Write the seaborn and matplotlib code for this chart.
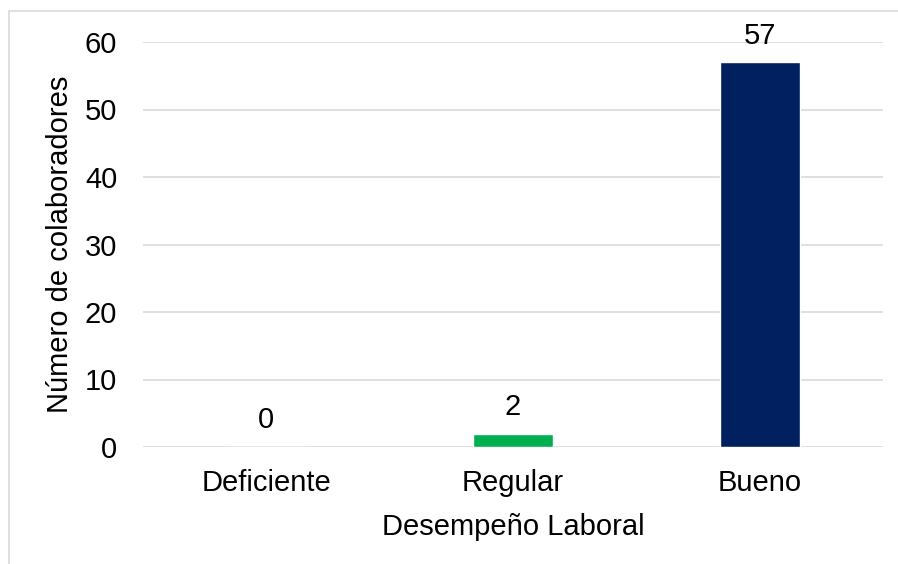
import matplotlib
matplotlib.use("Agg")
import matplotlib.pyplot as plt
import seaborn as sns
import pandas as pd
from matplotlib.patches import Rectangle

categorias = ["Deficiente", "Regular", "Bueno"]
colaboradores = [0, 2, 57]
colores = ["#00B050", "#00B050", "#002060"]
y_ticks = [0, 10, 20, 30, 40, 50, 60]

sns.set_theme(style="white")
plt.rcParams["font.family"] = ["Liberation Sans", "DejaVu Sans"]

FS = 21

df = pd.DataFrame({"categoria": categorias, "n": colaboradores})

fig = plt.figure(figsize=(8.98, 5.64), dpi=100)
ax = fig.add_axes([143 / 898, 1 - 447 / 564, (883 - 143) / 898, (447 - 42) / 564])

sns.barplot(data=df, x="categoria", y="n", hue="categoria", palette=colores,
            width=0.325, legend=False, ax=ax, saturation=1, zorder=3)

ax.set_ylim(0, 60)
ax.set_yticks(y_ticks)
ax.yaxis.grid(True, color="#D9D9D9", linewidth=1.2, zorder=0)
ax.set_axisbelow(True)
for s in ax.spines.values():
    s.set_visible(False)
ax.tick_params(axis="both", length=0, labelsize=FS, colors="black")
ax.tick_params(axis="y", pad=18.5)
ax.tick_params(axis="x", pad=15.5)

ax.set_xlabel("Desempeño Laboral", fontsize=FS, color="black")
ax.set_ylabel("Número de colaboradores", fontsize=FS, color="black")
ax.xaxis.set_label_coords(0.5, -0.162)
ax.yaxis.set_label_coords(-0.093, 0.5)

for i, v in enumerate(colaboradores):
    ax.annotate(f"{v}", xy=(i, v), xytext=(0, 13.5), textcoords="offset points",
                ha="center", va="baseline", fontsize=FS, color="black")

fig.patches.append(Rectangle((9 / 898, -0.1), 1.2, 1 - 11 / 564 + 0.1,
                             transform=fig.transFigure, fill=False,
                             edgecolor="#D9D9D9", linewidth=1.2))

fig.savefig("out.png", dpi=100)
